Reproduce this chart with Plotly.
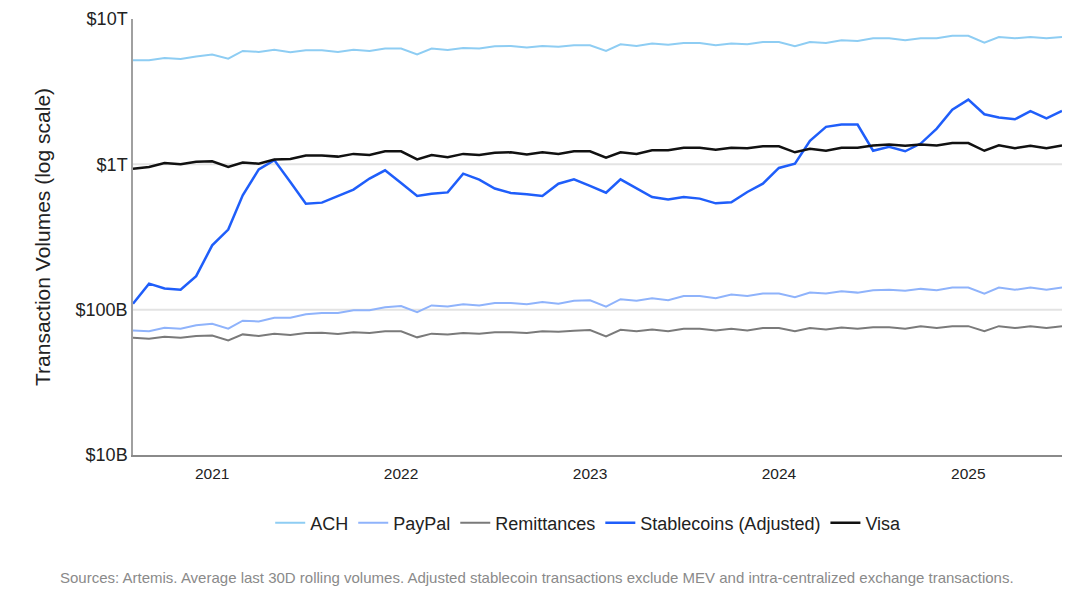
import pandas as pd
import plotly.graph_objects as go

# Monthly observations, Aug 2020 – Jul 2025
dates = pd.date_range("2020-08-01", periods=60, freq="MS")

# Values in US$ billions
ach = [5200, 5200, 5400, 5300, 5530, 5690, 5340, 6030, 5940, 6150,
       5900, 6100, 6100, 5940, 6150, 6030, 6270, 6270, 5710, 6270,
       6120, 6310, 6270, 6490, 6520, 6360, 6520, 6450, 6590, 6590,
       6030, 6700, 6520, 6770, 6650, 6840, 6840, 6590, 6770, 6700,
       6950, 6950, 6490, 6950, 6840, 7130, 7060, 7360, 7360, 7130,
       7360, 7360, 7670, 7670, 6880, 7520, 7360, 7520, 7360, 7520]

paypal = [72, 71, 75, 74, 78, 80, 74, 84, 83, 88,
          88, 93, 95, 95, 99, 99, 104, 106, 96, 107,
          105, 109, 107, 111, 111, 109, 113, 110, 115, 116,
          105, 118, 115, 120, 116, 124, 124, 120, 127, 124,
          129, 129, 122, 131, 129, 134, 131, 136, 137, 135,
          139, 136, 142, 142, 129, 142, 137, 142, 137, 142]

remittances = [64, 63, 65, 64, 66, 66.5, 61.5, 67.6, 66, 68.4,
               67, 69, 69.5, 68, 70, 69, 71, 71, 64.5, 68.4,
               67.6, 69, 68.4, 70, 70, 69, 71, 70.5, 71.7, 72.5,
               65.5, 72.7, 71, 73, 71, 74, 74, 72, 74, 72,
               74.7, 74.7, 71, 74.7, 73, 75.5, 74, 75.8, 75.8, 74,
               76.8, 74.7, 76.8, 77, 71, 77, 74.7, 77, 74.7, 77]

stablecoins = [110, 151, 140, 137, 170, 277, 356, 612, 924, 1070,
               755, 536, 545, 603, 670, 798, 910, 743, 605, 628,
               641, 863, 785, 681, 635, 622, 605, 736, 789, 710,
               638, 789, 687, 596, 574, 596, 581, 539, 548, 645,
               736, 944, 1010, 1450, 1810, 1880, 1880, 1240, 1320, 1230,
               1390, 1760, 2380, 2790, 2210, 2100, 2040, 2320, 2070, 2330]

visa = [934, 959, 1020, 1000, 1040, 1050, 959, 1030, 1010, 1080,
        1090, 1150, 1150, 1130, 1180, 1160, 1230, 1230, 1080, 1160,
        1120, 1180, 1160, 1200, 1210, 1170, 1210, 1180, 1230, 1230,
        1110, 1210, 1180, 1250, 1250, 1300, 1300, 1260, 1300, 1290,
        1330, 1330, 1210, 1280, 1240, 1300, 1300, 1350, 1370, 1340,
        1370, 1350, 1400, 1400, 1240, 1350, 1290, 1340, 1290, 1350]

series_names = ["ACH", "PayPal", "Remittances", "Stablecoins (Adjusted)", "Visa"]
series_values = [ach, paypal, remittances, stablecoins, visa]
series_colors = ["#8ecdf3", "#8fb3fb", "#7a7a7a", "#1f5efa", "#111111"]
series_widths = [2, 2, 2, 2.5, 2.5]

ytick_vals = [1e10, 1e11, 1e12, 1e13]
ytick_text = ["$10B", "$100B", "$1T", "$10T"]
grid_vals = [1e11, 1e12]

y_title = "Transaction Volumes (log scale)"
source_text = ("Sources: Artemis. Average last 30D rolling volumes. Adjusted stablecoin "
               "transactions exclude MEV and intra-centralized exchange transactions.")

FONT = "Liberation Sans, Arial, sans-serif"

fig = go.Figure()
for name, vals, col, w in zip(series_names, series_values, series_colors, series_widths):
    fig.add_trace(go.Scatter(
        x=dates, y=[v * 1e9 for v in vals], name=name, mode="lines",
        line=dict(color=col, width=w), hoverinfo="x+y+name"))

for g in grid_vals:
    fig.add_shape(type="line", xref="paper", x0=0, x1=1, yref="y", y0=g, y1=g,
                  line=dict(color="#e3e3e3", width=2), layer="below")

fig.update_layout(
    width=1064, height=588,
    margin=dict(l=125, r=10, t=11, b=141),
    paper_bgcolor="white", plot_bgcolor="white",
    font=dict(family=FONT, color="#222222", size=16),
    showlegend=True,
    legend=dict(orientation="h", x=0.49, xanchor="center", y=-0.156, yanchor="middle",
                font=dict(size=18, color="#222222"), itemwidth=30, traceorder="normal"),
    xaxis=dict(type="date", range=[dates[0], dates[-1]], showgrid=False, automargin=False,
               tickformat="%Y", dtick="M12", tick0="2021-01-01", ticks="",
               ticklabelstandoff=3,
               showline=True, linecolor="#8a8a8a", linewidth=2,
               tickfont=dict(size=15.5, color="#222222"), zeroline=False),
    yaxis=dict(type="log", range=[10, 13], tickvals=ytick_vals, ticktext=ytick_text,
               showgrid=False, ticks="", showline=True, linecolor="#a0a0a0", linewidth=1.5,
               automargin=False,
               tickfont=dict(size=18, color="#222222"), zeroline=False),
    annotations=[
        dict(text=y_title, xref="paper", yref="paper", x=-0.098, y=0.5, textangle=-90,
             xanchor="center", yanchor="middle", showarrow=False,
             font=dict(size=21, color="#222222", family=FONT)),
        dict(text=source_text, xref="paper", yref="paper", x=0.435, y=-0.28,
             xanchor="center", yanchor="middle", showarrow=False,
             font=dict(size=15, color="#8a8a8a", family=FONT)),
    ],
)

fig.write_html("out.html")
